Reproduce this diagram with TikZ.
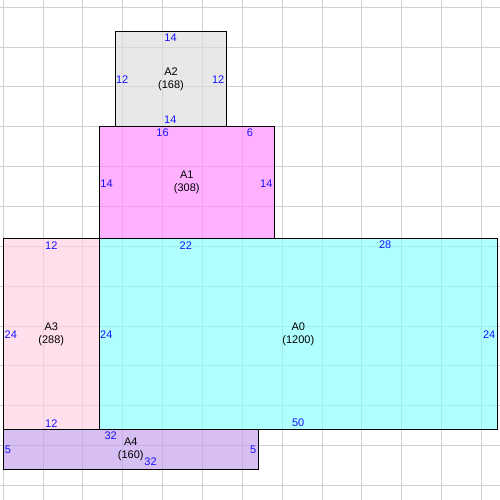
\documentclass[tikz,border=0pt]{standalone}
\usepackage{fontspec}
\setmainfont{Liberation Sans}
\definecolor{cA0}{RGB}{134,255,255}
\definecolor{cA1}{RGB}{255,134,255}
\definecolor{cA2}{RGB}{220,220,220}
\definecolor{cA3}{RGB}{255,207,226}
\definecolor{cA4}{RGB}{195,158,238}
\definecolor{gridc}{RGB}{208,208,208}
\definecolor{lenc}{RGB}{20,20,255}
\begin{document}
\begin{tikzpicture}[x=1pt,y=-1pt,
  font=\fontsize{11}{13}\selectfont,
  area/.style={draw=black, line width=1.2pt, fill opacity=0.65, text opacity=1, inner sep=0pt, align=center, text=black},
  len/.style={text=lenc, inner sep=0pt},
  gridline/.style={draw=gridc, line width=1pt}]
\useasboundingbox (0,0) rectangle (500,500);
\fill[white] (0,0) rectangle (500,500);
\foreach \i in {0,...,12} {
  \draw[gridline] ({3.3+39.84*\i},0) -- ({3.3+39.84*\i},500);
  \draw[gridline] (0,{7.3+39.84*\i}) -- (500,{7.3+39.84*\i});
}
% areas
\node[area, fill=cA0, minimum width=398pt, minimum height=191pt] (a0) at (298.3,333.8) {A0\\(1200)};
\node[area, fill=cA3, minimum width=96pt, minimum height=191pt] (a3) at (51.3,333.8) {A3\\(288)};
\node[area, fill=cA4, minimum width=255pt, minimum height=40pt] (a4) at (130.8,449.3) {A4\\(160)};
\node[area, fill=cA1, minimum width=175pt, minimum height=112pt] (a1) at (186.8,182.3) {A1\\(308)};
\node[area, fill=cA2, minimum width=111.4pt, minimum height=95pt] (a2) at (171,78.8) {A2\\(168)};
% A2 lengths
\node[len] (a2t) at (170.5,38) {14};
\node[len] (a2l) at (122.2,79.2) {12};
\node[len] (a2r) at (218.2,79.2) {12};
\node[len] (a2b) at (170.3,120) {14};
% A1 lengths
\node[len] (a1t) at (162.5,133.2) {16};
\node[len] (a1u) at (250,133) {6};
\node[len] (a1l) at (106.5,183.3) {14};
\node[len] (a1r) at (266.3,183.3) {14};
% A0 lengths
\node[len] (a0t) at (185.8,245.2) {22};
\node[len] (a0u) at (385.2,245.2) {28};
\node[len] (a0l) at (106.3,334.2) {24};
\node[len] (a0r) at (489.2,334.2) {24};
\node[len] (a0b) at (298.2,423.2) {50};
% A3 lengths
\node[len] (a3t) at (51.3,245.2) {12};
\node[len] (a3l) at (10.8,334.2) {24};
\node[len] (a3b) at (51.3,423.2) {12};
% A4 lengths
\node[len] (a4t) at (110.7,435.5) {32};
\node[len] (a4l) at (8,449.8) {5};
\node[len] (a4r) at (253.2,450) {5};
\node[len] (a4b) at (150.5,461.7) {32};
\end{tikzpicture}
\end{document}
